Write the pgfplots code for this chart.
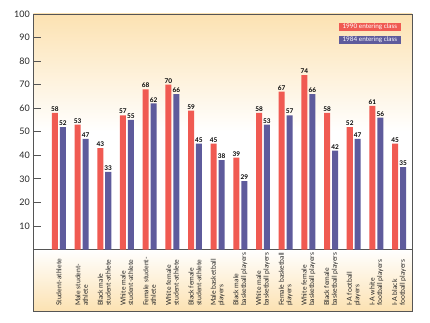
\documentclass[border=0pt]{standalone}
\usepackage{pgfplots}
\pgfplotsset{compat=1.18}
\usepackage{fontspec}
\setmainfont{Lato}
\definecolor{cred}{RGB}{240,90,82}
\definecolor{cblue}{RGB}{94,91,156}
\definecolor{peach}{RGB}{252,226,178}
\definecolor{frame}{RGB}{85,85,85}
\begin{document}
\begin{tikzpicture}
\begin{axis}[
  set layers,
  scale only axis,
  width=378.7bp, height=297bp,
  xmin=-1.13, xmax=15.57,
  ymin=-26.1, ymax=100,
  ybar, bar width=0.265,
  axis line style={frame, line width=0.8pt},
  ytick={10,20,...,100},
  ytick pos=left,
  tick align=inside,
  major tick length=7.5bp,
  ytick style={frame, line width=0.8pt},
  yticklabel style={font=\fontsize{9}{10}\selectfont, text=black!85},
  /pgf/number format/assume math mode=true,
  xtick={0,...,15},
  xtick style={draw=none},
  xticklabels={
    {Student-athlete},
    {Male student-\\athlete},
    {Black male\\student-athlete},
    {White male\\student-athlete},
    {Female student-\\athlete},
    {White female\\student-athlete},
    {Black female\\student-athlete},
    {Male basketball\\players},
    {Black male\\basketball players},
    {White male\\basketball players},
    {Female basketball\\players},
    {White female\\basketball players},
    {Black female\\basketball players},
    {I-A football\\players},
    {I-A white\\football players},
    {I-A black\\football players}},
  xticklabel style={rotate=90, anchor=west, align=left,
    font=\fontsize{6.9}{7.6}\selectfont, text=black!85},
  xticklabel shift=-1.5bp,
  nodes near coords,
  nodes near coords style={font=\bfseries\fontsize{6.5}{7}\selectfont, text=black, inner sep=1.2pt},
]
\begin{pgfonlayer}{axis background}
  \fill[top color=peach, bottom color=white, middle color=white] (axis cs:-1.13,0) rectangle (axis cs:15.57,100);
  \fill[top color=white, bottom color=peach] (axis cs:-1.13,-26.1) rectangle (axis cs:15.57,0);
\end{pgfonlayer}
\draw[frame, line width=0.8pt] (axis cs:-1.13,0) -- (axis cs:15.57,0);
\addplot[fill=cred, draw=none, bar shift=-0.175] coordinates {
 (0,58) (1,53) (2,43) (3,57) (4,68) (5,70) (6,59) (7,45)
 (8,39) (9,58) (10,67) (11,74) (12,58) (13,52) (14,61) (15,45)};
\addplot[fill=cblue, draw=none, bar shift=0.175] coordinates {
 (0,52) (1,47) (2,33) (3,55) (4,62) (5,66) (6,45) (7,38)
 (8,29) (9,53) (10,57) (11,66) (12,42) (13,47) (14,56) (15,35)};
\node[fill=cred, text=white, anchor=north east, minimum width=62bp, minimum height=8bp, inner sep=0pt,
  font=\fontsize{6.4}{7}\selectfont] at (rel axis cs:0.971,0.970) {1990 entering class};
\node[fill=cblue, text=white, anchor=north east, minimum width=62bp, minimum height=8bp, inner sep=0pt,
  font=\fontsize{6.4}{7}\selectfont] at (rel axis cs:0.971,0.927) {1984 entering class};
\end{axis}
\path ([shift={(-33.3bp,-12bp)}]current axis.south west) rectangle ([shift={(18bp,14bp)}]current axis.north east);
\end{tikzpicture}
\end{document}
